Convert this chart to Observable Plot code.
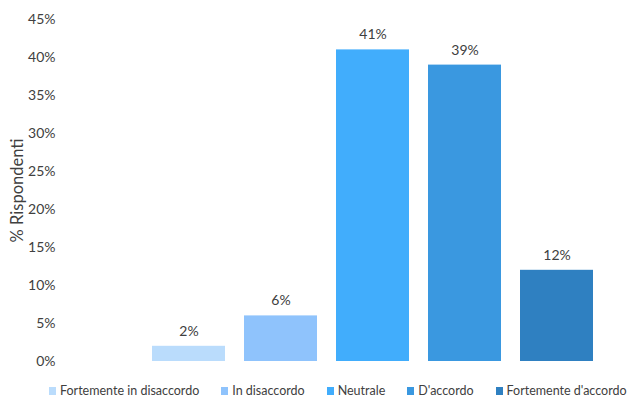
<!DOCTYPE html>
<html><head><meta charset="utf-8">
<script src="https://cdn.jsdelivr.net/npm/d3@7"></script>
<script src="https://cdn.jsdelivr.net/npm/@observablehq/plot@0.6"></script>
<style>
body{margin:0;background:#fff;font-family:Lato,"Open Sans",sans-serif;}
#legend{display:flex;margin-left:49px;margin-top:8px;font-size:12.5px;color:#404040;line-height:16px;white-space:nowrap;}
#legend .item{display:flex;align-items:center;margin-right:22px;}
#legend .sw{width:7px;height:8px;margin-right:4px;}
</style></head><body><div id="chart"></div><script>
const categories = ["Fortemente in disaccordo","In disaccordo","Neutrale","D'accordo","Fortemente d'accordo"];
const values = [2, 6, 41, 39, 12];
const colors = ["#badcfc","#8fc3fc","#41adfc","#3a98e0","#2f80c1"];
const yTicks = [0,5,10,15,20,25,30,35,40,45];

const data = categories.map((c,i)=>({cat:c, value:values[i]}));

const chart = Plot.plot({
  width: 635, height: 375,
  marginLeft: 58, marginRight: 20, marginTop: 19, marginBottom: 14,
  style: {fontFamily: "Lato, 'Open Sans', sans-serif", fontSize: "14px", color: "#404040"},
  x: {domain: categories, range: [140, 604], paddingInner: 0.21, paddingOuter: 0.105, axis: null},
  y: {domain: [0,45]},
  color: {domain: categories, range: colors},
  marks: [
    Plot.axisY({ticks: yTicks, tickSize: 0, tickPadding: 3, tickFormat: d => d + "%", fontSize: 14, label: null}),
    Plot.axisY({ticks: [], tickSize: 0, label: "% Rispondenti", labelAnchor: "center", labelArrow: "none", labelOffset: 47, fontSize: 16.5}),
    Plot.barY(data, {x: "cat", y: "value", fill: "cat"}),
    Plot.text(data, {x: "cat", y: "value", text: d => d.value + "%", dy: -15, fill: "#404040", fontSize: 14})
  ]
});
document.getElementById("chart").appendChild(chart);

const leg = document.createElement("div");
leg.id = "legend";
categories.forEach((c,i)=>{
  const it = document.createElement("div"); it.className = "item";
  const sw = document.createElement("span"); sw.className = "sw"; sw.style.background = colors[i];
  const t = document.createElement("span"); t.textContent = c;
  it.appendChild(sw); it.appendChild(t); leg.appendChild(it);
});
document.body.appendChild(leg);
</script></body></html>
